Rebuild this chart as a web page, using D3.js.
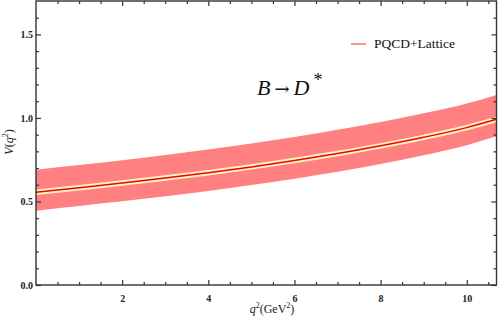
<!DOCTYPE html>
<html>
<head>
<meta charset="utf-8">
<script src="https://cdn.jsdelivr.net/npm/d3@7"></script>
<style>
  body { margin: 0; background: #fff; }
  text { font-family: "Liberation Serif", "DejaVu Serif", serif; }
</style>
</head>
<body>
<div id="chart"></div>
<script>
// values
const q2 = [0, 1, 2, 3, 4, 5, 6, 7, 8, 9, 10, 10.69]
const central = [0.555, 0.582, 0.610, 0.640, 0.672, 0.707, 0.745, 0.787, 0.833, 0.884, 0.942, 0.992]
const upper = [0.690, 0.718, 0.747, 0.778, 0.811, 0.847, 0.886, 0.929, 0.976, 1.028, 1.087, 1.138]
const lower = [0.445, 0.473, 0.501, 0.531, 0.563, 0.598, 0.636, 0.678, 0.725, 0.777, 0.837, 0.890]
const xTicks = [2, 4, 6, 8, 10]
const yTicks = [0.0, 0.5, 1.0, 1.5]
const legendLabel = "PQCD+Lattice"

const WIDTH = 498
const HEIGHT = 321
const MARGIN_LEFT = 36
const MARGIN_RIGHT = 1.5
const MARGIN_TOP = 1
const MARGIN_BOTTOM = 36

const svg = d3.select("#chart").append("svg")
  .attr("width", WIDTH)
  .attr("height", HEIGHT)

const x = d3.scaleLinear().domain([0, 10.69]).range([MARGIN_LEFT, WIDTH - MARGIN_RIGHT])
const y = d3.scaleLinear().domain([0, 1.7]).range([HEIGHT - MARGIN_BOTTOM, MARGIN_TOP])

const data = q2.map((d, i) => ({q: d, c: central[i], u: upper[i], l: lower[i]}))

// error band
svg.append("path")
  .datum(data)
  .attr("fill", "#ff8080")
  .attr("d", d3.area().curve(d3.curveMonotoneX)
    .x(d => x(d.q)).y0(d => y(d.l)).y1(d => y(d.u)))

const line = d3.line().curve(d3.curveMonotoneX).x(d => x(d.q)).y(d => y(d.c))
svg.append("path").datum(data)
  .attr("fill", "none").attr("stroke", "#fff4c0").attr("stroke-width", 5.5)
  .attr("d", line)
svg.append("path").datum(data)
  .attr("fill", "none").attr("stroke", "#f00000").attr("stroke-width", 1.5)
  .attr("d", line)

// axes with inward ticks
const x0 = MARGIN_LEFT, x1 = WIDTH - MARGIN_RIGHT
const y0 = HEIGHT - MARGIN_BOTTOM, y1 = MARGIN_TOP
const frameColor = "#333"

const xMinor = d3.range(0.5, 10.69, 0.5).filter(v => !xTicks.includes(v))
const yMinor = d3.range(0.1, 1.7, 0.1).filter(v => !yTicks.some(t => Math.abs(t - v) < 1e-6))

svg.append("g").attr("transform", `translate(0,${y0})`)
  .call(d3.axisBottom(x).tickValues(xTicks).tickSize(-5).tickPadding(10).tickFormat(d3.format("d")))
svg.append("g").attr("transform", `translate(0,${y1})`)
  .call(d3.axisTop(x).tickValues(xTicks).tickSize(-5).tickFormat(""))
svg.append("g").attr("transform", `translate(${x0},0)`)
  .call(d3.axisLeft(y).tickValues(yTicks).tickSize(-5).tickPadding(3).tickFormat(d3.format(".1f")))
svg.append("g").attr("transform", `translate(${x1},0)`)
  .call(d3.axisRight(y).tickValues(yTicks).tickSize(-5).tickFormat(""))

svg.append("g").attr("transform", `translate(0,${y0})`)
  .call(d3.axisBottom(x).tickValues(xMinor).tickSize(-3).tickFormat(""))
svg.append("g").attr("transform", `translate(0,${y1})`)
  .call(d3.axisTop(x).tickValues(xMinor).tickSize(-3).tickFormat(""))
svg.append("g").attr("transform", `translate(${x0},0)`)
  .call(d3.axisLeft(y).tickValues(yMinor).tickSize(-3).tickFormat(""))
svg.append("g").attr("transform", `translate(${x1},0)`)
  .call(d3.axisRight(y).tickValues(yMinor).tickSize(-3).tickFormat(""))

svg.selectAll(".domain").remove()
svg.selectAll(".tick line").attr("stroke", frameColor).attr("stroke-width", 1.2)
svg.selectAll(".tick text")
  .attr("fill", "#222")
  .style("font-family", "'Liberation Serif', serif")
  .style("font-size", "10px")
  .style("font-weight", "bold")

svg.append("rect")
  .attr("x", x0).attr("y", y1)
  .attr("width", x1 - x0).attr("height", y0 - y1)
  .attr("fill", "none").attr("stroke", frameColor).attr("stroke-width", 1.4)

// axis labels
const xl = svg.append("text")
  .attr("x", 272).attr("y", 313)
  .attr("text-anchor", "middle")
  .style("font-size", "12px").attr("fill", "#222")
xl.append("tspan").style("font-style", "italic").text("q")
xl.append("tspan").attr("dy", -5).style("font-size", "8px").text("2")
xl.append("tspan").attr("dy", 5).text("(GeV")
xl.append("tspan").attr("dy", -5).style("font-size", "8px").text("2")
xl.append("tspan").attr("dy", 5).text(")")

const yl = svg.append("text")
  .attr("transform", "translate(13,142) rotate(-90)")
  .attr("text-anchor", "middle")
  .style("font-size", "12px").attr("fill", "#222")
yl.append("tspan").style("font-style", "italic").text("V")
yl.append("tspan").text("(")
yl.append("tspan").style("font-style", "italic").text("q")
yl.append("tspan").attr("dy", -5).style("font-size", "8px").text("2")
yl.append("tspan").attr("dy", 5).text(")")

// legend
svg.append("line")
  .attr("x1", 351).attr("x2", 366).attr("y1", 44).attr("y2", 44)
  .attr("stroke", "#ff7070").attr("stroke-width", 1.5)
svg.append("text")
  .attr("x", 374).attr("y", 48)
  .style("font-size", "13.5px").attr("fill", "#111")
  .text(legendLabel)

// process title
const title = svg.append("text")
  .attr("x", 257).attr("y", 95)
  .style("font-size", "22px").attr("fill", "#111")
title.append("tspan").style("font-style", "italic").text("B")
title.append("tspan").attr("dx", 4).style("font-family", "'DejaVu Serif', serif").style("font-size", "18px").text("\u2192")
title.append("tspan").attr("dx", 4).style("font-style", "italic").text("D")
title.append("tspan").attr("dx", 4).attr("dy", -9).style("font-size", "18px").text("*")
</script>
</body>
</html>
